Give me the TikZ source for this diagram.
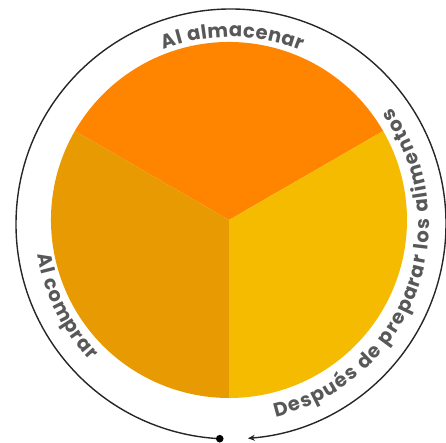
\documentclass[tikz,border=0pt]{standalone}
\usepackage{fontspec}
\setmainfont{Poppins}
\usetikzlibrary{decorations.text,arrows.meta}
\definecolor{topor}{RGB}{255,133,0}
\definecolor{leftor}{RGB}{232,154,2}
\definecolor{rightor}{RGB}{245,187,0}
\definecolor{txtgray}{RGB}{88,88,88}
\tikzset{
  sector/.style={draw=none},
  ringline/.style={line width=1.4pt, draw=black!85},
  lbl/.style={decorate, decoration={text along path, text align=fit to path, text color=txtgray}}
}
\newcommand{\lblfont}{\fontsize{19.5}{19.5}\selectfont\bfseries}
\begin{document}
\begin{tikzpicture}
\useasboundingbox (-231pt,-219pt) rectangle (215pt,224pt);
\coordinate (pc) at (-2pt,4pt);
% pie sectors
\fill[topor] (pc) -- ++(30:178pt) arc (30:150:178pt) -- cycle;
\fill[leftor] (pc) -- ++(150:178pt) arc (150:270:178pt) -- cycle;
\fill[rightor] (pc) -- ++(270:178pt) arc (270:390:178pt) -- cycle;
% outer ring with gap
\coordinate (rs) at (267:215pt);
\coordinate (re) at (274.5:215pt);
\draw[ringline, -{Stealth[length=7pt,width=6pt]}] (rs) arc (267:-85.5:215pt);
\fill[black] (rs) circle (3.8pt);
% labels
\path[lbl, decoration={text={|\lblfont|Al almacenar}}] (111:187pt) arc (111:68:187pt);
\path[lbl, decoration={text={|\lblfont|Al comprar}}] (189:196pt) arc (189:224:196pt);
\path[lbl, decoration={text={|\lblfont|Después de preparar los alimentos}}] (-77:198pt) arc (-77:36:198pt);
\end{tikzpicture}
\end{document}
